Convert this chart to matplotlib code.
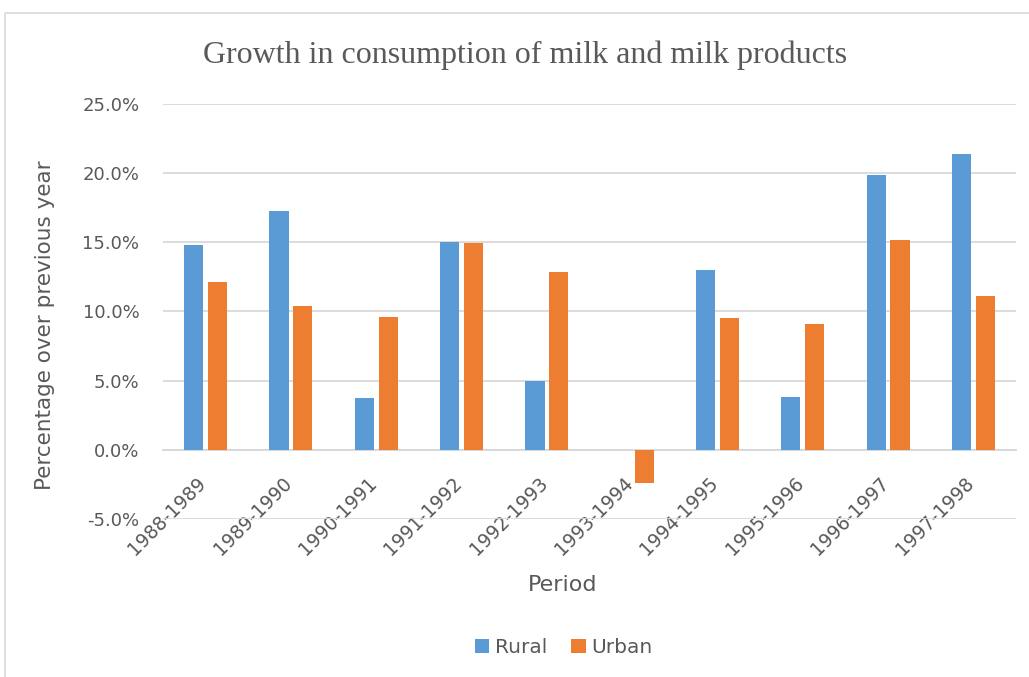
import matplotlib.pyplot as plt
import matplotlib.transforms as mtransforms
import numpy as np
from matplotlib.patches import Rectangle

periods = ["1988-1989", "1989-1990", "1990-1991", "1991-1992", "1992-1993",
           "1993-1994", "1994-1995", "1995-1996", "1996-1997", "1997-1998"]
rural = [14.8, 17.25, 3.75, 15.0, 5.0, 0.0, 13.0, 3.8, 19.9, 21.4]
urban = [12.1, 10.4, 9.6, 14.95, 12.85, -2.4, 9.5, 9.1, 15.2, 11.15]

fig = plt.figure(figsize=(10.29, 6.77), dpi=100)
ax = fig.add_axes([0.1584, 0.2334, 0.8290, 0.6130])

grey = "#595959"
x = np.arange(len(periods))
w = 0.225
ax.bar(x - 0.14, rural, w, color="#5B9BD5", label="Rural", zorder=3)
ax.bar(x + 0.14, urban, w, color="#ED7D31", label="Urban", zorder=3)

ax.set_xlim(-0.5, len(periods) - 0.5)
ax.set_ylim(-5, 25)
ax.set_yticks(np.arange(-5, 26, 5))
ax.set_yticklabels(["%.1f%%" % v for v in np.arange(-5, 26, 5)])
ax.yaxis.grid(True, color="#D9D9D9", linewidth=1.3, zorder=0)

for s in ["top", "right", "left"]:
    ax.spines[s].set_visible(False)
ax.spines["bottom"].set_position(("data", 0))
ax.spines["bottom"].set_color("#D9D9D9")
ax.spines["bottom"].set_linewidth(1.3)

ax.set_xticks(x)
ax.set_xticklabels(periods, rotation=45, ha="right", va="top",
                   rotation_mode="anchor", fontsize=13.5, color=grey)
ax.tick_params(axis="x", length=0, pad=17)
ax.tick_params(axis="y", length=0, labelsize=13, labelcolor=grey, pad=17)

# nudge the slanted labels to the left
shift = mtransforms.ScaledTranslation(-0.09, 0, fig.dpi_scale_trans)
for lab in ax.get_xticklabels():
    lab.set_transform(lab.get_transform() + shift)

fig.text(0.044, 0.52, "Percentage over previous year", rotation=90,
         ha="center", va="center", fontsize=15.5, color=grey)
fig.text(0.547, 0.136, "Period", ha="center", va="center", fontsize=16, color=grey)
fig.text(0.51, 0.919, "Growth in consumption of milk and milk products",
         ha="center", va="center", fontsize=23, color=grey, family="Liberation Serif")

ax.legend(loc="center", bbox_to_anchor=(0.548, 0.043), bbox_transform=fig.transFigure,
          ncol=2, frameon=False, fontsize=14.5, handlelength=0.7, handleheight=0.7,
          handletextpad=0.3, columnspacing=1.2, labelcolor=grey)

fig.patches.append(Rectangle((5 / 1029, -0.05), 1.1, 1.05 - 13 / 677,
                             transform=fig.transFigure, fill=False,
                             edgecolor="#D9D9D9", linewidth=1.2))

fig.savefig("out.png", dpi=100)
